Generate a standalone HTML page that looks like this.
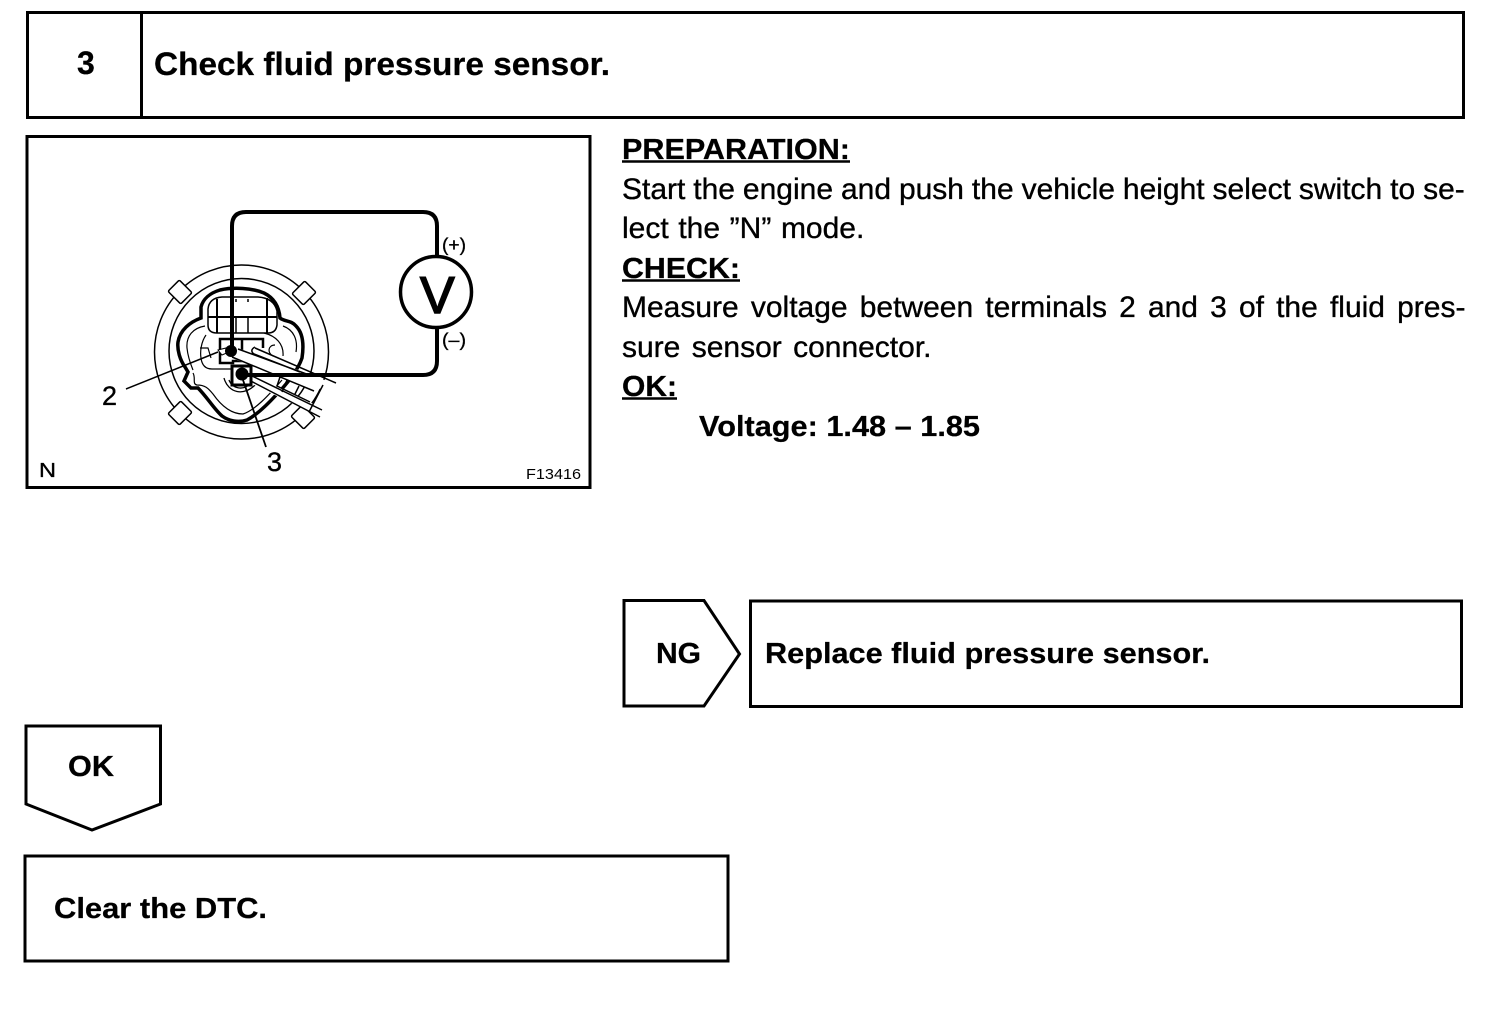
<!DOCTYPE html>
<html><head><meta charset="utf-8"><style>
html,body{margin:0;padding:0;background:#fff;width:1504px;height:1016px;overflow:hidden}
svg{display:block}
text{font-family:"Liberation Sans",sans-serif;fill:#000}
.b{font-weight:bold;stroke:#000;stroke-width:.25px}
.r{stroke:#000;stroke-width:.35px}
</style></head><body>
<svg width="1504" height="1016" viewBox="0 0 1504 1016" xmlns="http://www.w3.org/2000/svg">
<g fill="none" stroke="#000" stroke-width="3">
<rect x="27.500" y="12.500" width="1436" height="105"/>
<line x1="141.500" y1="12" x2="141.500" y2="118"/>
<rect x="27" y="136.500" width="563" height="351"/>
<path d="M624 600.500H704L739.500 654L704 706H624Z"/>
<rect x="750.500" y="601" width="711" height="105.500"/>
<path d="M26 726H160.500V804L92 830L26 804Z"/>
<rect x="25" y="856" width="703" height="105"/>
</g>
<text x="77" y="74" class="b" font-size="32">3</text>
<text x="154" y="75" class="b" font-size="32" textLength="456" lengthAdjust="spacingAndGlyphs">Check fluid pressure sensor.</text>

<text x="622" y="159" class="b" font-size="29" textLength="228" lengthAdjust="spacingAndGlyphs">PREPARATION:</text>
<line x1="622" y1="161.500" x2="850" y2="161.500" stroke="#000" stroke-width="2.500"/>
<text x="622" y="199" class="r" font-size="30" word-spacing="-0.4">Start the engine and push the vehicle height select switch to se-</text>
<text x="622" y="238" class="r" font-size="30" word-spacing="1.3">lect the ”N” mode.</text>
<text x="622" y="278" class="b" font-size="29" textLength="118" lengthAdjust="spacingAndGlyphs">CHECK:</text>
<line x1="622" y1="280.500" x2="740" y2="280.500" stroke="#000" stroke-width="2.500"/>
<text x="622" y="317" class="r" font-size="30" word-spacing="3.8">Measure voltage between terminals 2 and 3 of the fluid pres-</text>
<text x="622" y="357" class="r" font-size="30" word-spacing="3">sure sensor connector.</text>
<text x="622" y="396" class="b" font-size="29" textLength="55" lengthAdjust="spacingAndGlyphs">OK:</text>
<line x1="622" y1="398.500" x2="677" y2="398.500" stroke="#000" stroke-width="2.500"/>
<text x="699" y="436" class="b" font-size="29" textLength="281" lengthAdjust="spacingAndGlyphs">Voltage: 1.48 – 1.85</text>

<text x="656" y="663" class="b" font-size="29" textLength="45" lengthAdjust="spacingAndGlyphs">NG</text>
<text x="765" y="663" class="b" font-size="29" textLength="445" lengthAdjust="spacingAndGlyphs">Replace fluid pressure sensor.</text>
<text x="68" y="776" class="b" font-size="29" textLength="46" lengthAdjust="spacingAndGlyphs">OK</text>
<text x="54" y="918" class="b" font-size="29" textLength="213" lengthAdjust="spacingAndGlyphs">Clear the DTC.</text>

<!-- diagram -->
<g fill="none" stroke="#000">
<circle cx="241.500" cy="352" r="87" stroke-width="1.500"/>
<circle cx="241.500" cy="351" r="72.500" stroke-width="1.500"/>
<g fill="#fff" stroke-width="1.500">
<rect x="-9" y="-8" width="18" height="16" rx="1.500" transform="translate(180 292) rotate(45)"/>
<rect x="-9" y="-8" width="18" height="16" rx="1.500" transform="translate(304 293) rotate(-45)"/>
<rect x="-9" y="-8" width="18" height="16" rx="1.500" transform="translate(180 413) rotate(-45)"/>
<rect x="-9" y="-8" width="18" height="16" rx="1.500" transform="translate(303 417) rotate(45)"/>
</g>
<!-- connector body outline -->
<path d="M201 317V307C203 299 210 293 220 290C234 287 252 288 264 293C274 298 279 306 280 318C285 322 291 320 296 326C303 333 304 345 302 358C298 370 287 384 277 394C268 404 258 414 247 420C238 423 229 421 222 416C214 409 207 397 198 388H191L184 381L188 372L185 367C180 360 177 350 178 342C180 330 190 322 201 318Z" stroke-width="3.500" fill="#fff"/>
<path d="M193 373C196 378 192 384 197 385C205 385 208 388 213 394C220 404 230 414 243 414C255 410 268 396 282 380M205 326C193 328 186 336 187 348C188 358 191 365 193 370M283 326C294 330 298 340 296 352" stroke-width="1.200"/>
<!-- upper grid -->
<path d="M208 320V309Q209 298 222 297H258Q274 298 277 311V325Q276 333 268 333H217Q208 333 208 325Z" stroke-width="1.500" fill="#fff"/>
<path d="M217 299V333M267 298V333M208 317H277" stroke-width="2"/>
<path d="M236 317V333M248 317V333M248 299V302M236 299V302" stroke-width="1.500"/>
<!-- lower housing -->
<path d="M206 335C201 342 200 352 201 358C202 366 206 369 212 369H232M264 333C276 336 284 344 283 356M200 348H208L211 358M275 345C268 345 267 353 273 356" stroke-width="1.200"/>
<path d="M220 339H242V361H233V363H220Z M242 339H263V348" stroke-width="2.500" fill="#fff"/>
<path d="M224 378C228 393 244 397 256 384M229 380C232 389 244 391 251 383" stroke-width="1.300"/>
<!-- probes -->
<path d="M232 346L312 375L334 384L313 391L232 358Z" fill="#fff" stroke="none"/>
<path d="M255 348L336 383M238 349L312 376M232 357L314 391M255 347C251 349 251 352 254 354L300 372" stroke-width="1.500"/>
<path d="M246 372L322 408L320 417L244 380Z" fill="#fff" stroke="none"/>
<path d="M250 375L322 410M245 378L320 417M280 377L277 386L310 402M287 380L282 392M299 386L295 394M323 385L309 412" stroke-width="1.500"/>
<path d="M232 366H251V385H232Z" stroke-width="3" fill="#fff"/>
<!-- leaders -->
<path d="M126 389L218 352" stroke-width="1.500"/>
<path d="M218 350L226 348L229 352L222 355Z" stroke-width="1" fill="#fff"/>
<path d="M243 380L266 447" stroke-width="1.800"/>
<!-- wires -->
<path d="M232 350V226Q232 212 246 212H423Q437 212 437 226V258M437 328V361Q437 375 423 375H242" stroke-width="4"/>
<circle cx="436" cy="292" r="35.500" stroke-width="3.500" fill="#fff"/>
</g>
<circle cx="231" cy="351" r="6" fill="#000"/>
<circle cx="242" cy="374" r="6.500" fill="#000"/>
<text x="420" y="313" font-size="52" stroke="#000" stroke-width="1.500">V</text>
<text x="442" y="251" font-size="18" stroke="#000" stroke-width=".3" textLength="24" lengthAdjust="spacingAndGlyphs">(+)</text>
<text x="442" y="346" font-size="18" stroke="#000" stroke-width=".3" textLength="24" lengthAdjust="spacingAndGlyphs">(–)</text>
<text x="102" y="405" class="r" font-size="27">2</text>
<text x="267" y="471" class="r" font-size="27">3</text>
<text x="39" y="477" font-size="20" class="r" textLength="17" lengthAdjust="spacingAndGlyphs">N</text>
<text x="526" y="479" font-size="15" textLength="55" lengthAdjust="spacingAndGlyphs">F13416</text>
</svg>
</body></html>
